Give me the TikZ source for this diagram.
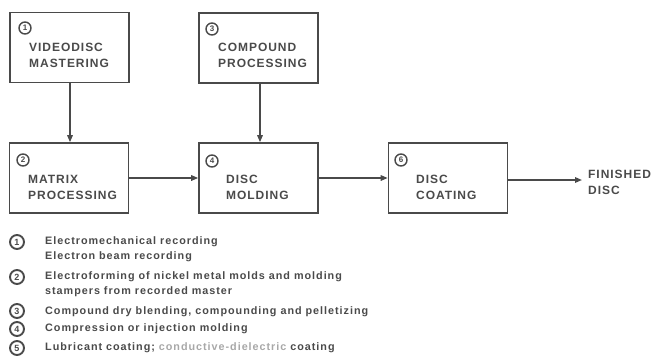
\documentclass[tikz,border=0pt]{standalone}
\usepackage{fontspec}
\setmainfont{Liberation Sans}
\usetikzlibrary{arrows.meta}
\definecolor{ink}{HTML}{4A4A4A}
\definecolor{faint}{HTML}{A8A8A8}
\newfontfamily\boxfont[LetterSpace=8]{Liberation Sans}
\newfontfamily\legfont[LetterSpace=9]{Liberation Sans}
\tikzset{
  stepbox/.style={draw=ink, line width=1.6pt, minimum width=119pt, minimum height=70pt, inner sep=0pt},
  boxtext/.style={anchor=west, text=ink, font=\boxfont\bfseries\fontsize{12}{15.5}\selectfont, align=left, inner sep=0pt},
  num/.style={circle, draw=ink, line width=1.4pt, minimum size=12pt, inner sep=0pt, text=ink, font=\boxfont\bfseries\fontsize{8}{8}\selectfont},
  lnum/.style={circle, draw=ink, line width=1.9pt, minimum size=14pt, inner sep=0pt, text=ink, font=\boxfont\bfseries\fontsize{9}{9}\selectfont},
  legtext/.style={anchor=west, text=ink, font=\legfont\bfseries\fontsize{10.8}{15}\selectfont, align=left, inner sep=0pt},
  conn/.style={draw=ink, line width=1.5pt, -{Triangle[length=7pt,width=5.5pt]}}
}
\begin{document}
\begin{tikzpicture}[x=1pt,y=-1pt]
\useasboundingbox (0,0) rectangle (657,362);
% boxes
\node[stepbox] (b1) at (69.5,47.5) {};
\node[stepbox] (b3) at (258.5,48) {};
\node[stepbox] (b2) at (69,178) {};
\node[stepbox] (b4) at (258.5,178) {};
\node[stepbox] (b6) at (448,178) {};
% circled numbers in boxes
\node[num] (n1) at (25,28) {1};
\node[num] (n3) at (212,29) {3};
\node[num] (n2) at (23,160) {2};
\node[num] (n4) at (212,161) {4};
\node[num] (n6) at (401,160) {6};
% box texts
\node[boxtext] (t1) at (29,55.5) {VIDEODISC\\MASTERING};
\node[boxtext] (t3) at (218,55.5) {COMPOUND\\PROCESSING};
\node[boxtext] (t2) at (28,187.5) {MATRIX\\PROCESSING};
\node[boxtext] (t4) at (226,187.5) {DISC\\MOLDING};
\node[boxtext] (t6) at (416,187.5) {DISC\\COATING};
\node[boxtext, font=\boxfont\bfseries\fontsize{12}{16.5}\selectfont] (fin) at (588,182.5) {FINISHED\\DISC};
\coordinate (end) at (582,180);
% connectors
\draw[conn] (b1.south -| 70,0) -- (b2.north -| 70,0);
\draw[conn] (b3.south -| 260,0) -- (b4.north -| 260,0);
\draw[conn] (b2) -- (b4);
\draw[conn] (b4) -- (b6);
\draw[conn] (b6.east |- end) -- (end);
% legend
\node[lnum] (l1) at (17,242) {1};
\node[lnum] (l2) at (17,277) {2};
\node[lnum] (l3) at (17,311) {3};
\node[lnum] (l4) at (17,329) {4};
\node[lnum] (l5) at (17,348) {5};
\node[legtext] (g1) at (45,249) {Electromechanical recording\\Electron beam recording};
\node[legtext] (g2) at (45,284.5) {Electroforming of nickel metal molds and molding\\stampers from recorded master};
\node[legtext] (g3) at (45,312) {Compound dry blending, compounding and pelletizing};
\node[legtext] (g4) at (45,329) {Compression or injection molding};
\node[legtext] (g5) at (45,348) {Lubricant coating; \textcolor{faint}{conductive-dielectric} coating};
\end{tikzpicture}
\end{document}
